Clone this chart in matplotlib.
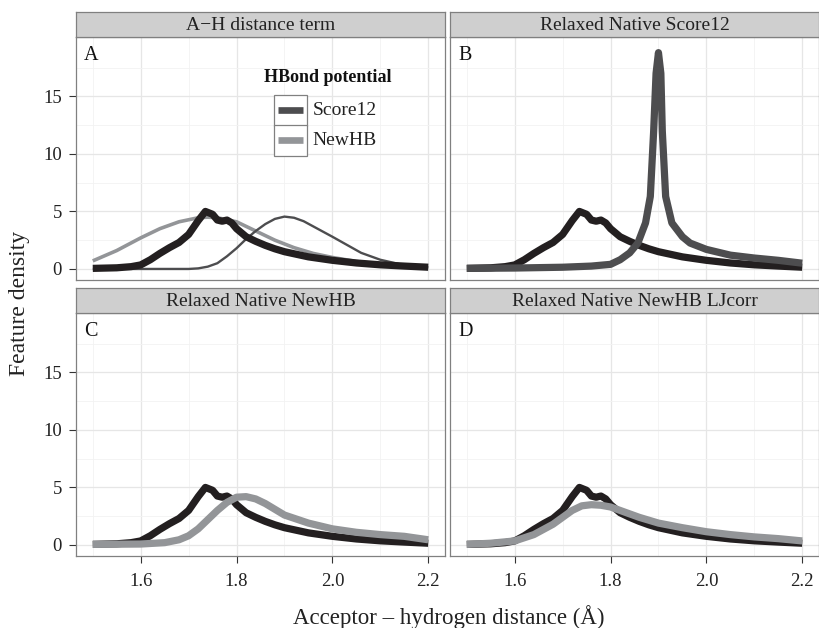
import numpy as np
import matplotlib
matplotlib.use("Agg")
import matplotlib.pyplot as plt
from matplotlib.patches import Rectangle
from matplotlib.lines import Line2D

plt.rcParams['font.family'] = ['Liberation Serif', 'DejaVu Serif']
plt.rcParams['lines.solid_joinstyle'] = 'round'
plt.rcParams['lines.solid_capstyle'] = 'butt'

# native distribution (same in every panel)
native_x = [1.50, 1.55, 1.58, 1.60, 1.62, 1.64, 1.66, 1.68, 1.70, 1.72, 1.735, 1.75, 1.76,
            1.77, 1.78, 1.79, 1.80, 1.82, 1.84, 1.86, 1.88, 1.90, 1.95, 2.00, 2.05, 2.10,
            2.15, 2.20]
native_y = [0.05, 0.10, 0.20, 0.35, 0.80, 1.35, 1.85, 2.30, 3.00, 4.20, 5.00, 4.75, 4.25,
            4.15, 4.25, 4.00, 3.50, 2.80, 2.40, 2.05, 1.75, 1.50, 1.05, 0.75, 0.52, 0.36,
            0.25, 0.15]

# panel A: potential terms
score12_term_x = [1.50, 1.70, 1.72, 1.74, 1.76, 1.78, 1.80, 1.82, 1.84, 1.86, 1.88, 1.90,
                  1.92, 1.94, 1.96, 1.98, 2.00, 2.03, 2.06, 2.10, 2.14, 2.18, 2.20]
score12_term_y = [0.0, 0.0, 0.05, 0.2, 0.5, 1.1, 1.8, 2.6, 3.3, 3.9, 4.35, 4.55, 4.45,
                  4.15, 3.7, 3.25, 2.8, 2.1, 1.4, 0.8, 0.42, 0.2, 0.15]
newhb_term_x = [1.50, 1.55, 1.60, 1.64, 1.68, 1.72, 1.74, 1.76, 1.80, 1.84, 1.88, 1.92,
                1.96, 2.00, 2.05, 2.10, 2.15, 2.20]
newhb_term_y = [0.7, 1.6, 2.7, 3.5, 4.1, 4.45, 4.5, 4.45, 4.1, 3.3, 2.5, 1.85, 1.35,
                1.0, 0.65, 0.4, 0.2, 0.05]

# panel B: relaxed with Score12
relax_s12_x = [1.50, 1.60, 1.70, 1.76, 1.80, 1.82, 1.84, 1.857, 1.873, 1.883, 1.89,
               1.895, 1.90, 1.905, 1.908, 1.915, 1.928, 1.95, 1.966, 2.00, 2.05, 2.10,
               2.15, 2.20]
relax_s12_y = [0.05, 0.08, 0.15, 0.25, 0.4, 0.8, 1.4, 2.25, 4.0, 6.3, 12.0, 17.0, 18.8,
               17.0, 12.0, 6.3, 4.0, 2.8, 2.25, 1.7, 1.2, 0.95, 0.75, 0.5]

# panel C: relaxed with NewHB
relax_nhb_x = [1.50, 1.60, 1.65, 1.68, 1.70, 1.72, 1.74, 1.76, 1.78, 1.80, 1.82, 1.84,
               1.86, 1.88, 1.90, 1.95, 2.00, 2.05, 2.10, 2.15, 2.20]
relax_nhb_y = [0.05, 0.08, 0.2, 0.45, 0.8, 1.4, 2.2, 3.0, 3.7, 4.15, 4.2, 4.0, 3.6, 3.1,
               2.6, 1.9, 1.4, 1.1, 0.9, 0.75, 0.45]

# panel D: relaxed with NewHB + LJ correction
relax_lj_x = [1.50, 1.55, 1.60, 1.64, 1.68, 1.70, 1.72, 1.74, 1.76, 1.78, 1.80, 1.82,
              1.84, 1.86, 1.90, 1.95, 2.00, 2.05, 2.10, 2.15, 2.20]
relax_lj_y = [0.05, 0.15, 0.35, 0.9, 1.8, 2.4, 3.0, 3.4, 3.5, 3.45, 3.3, 3.0, 2.7, 2.4,
              1.9, 1.5, 1.15, 0.9, 0.7, 0.55, 0.35]

titles = ["A\u2212H distance term", "Relaxed Native Score12",
          "Relaxed Native NewHB", "Relaxed Native NewHB LJcorr"]
letters = ["A", "B", "C", "D"]
x_ticks = [1.6, 1.8, 2.0, 2.2]
y_ticks = [0, 5, 10, 15]

black = "#231f20"
dark = "#4d4d4f"
light = "#939598"

W, H = 819, 628
fig = plt.figure(figsize=(W / 100, H / 100), dpi=100)

# pixel boxes: (left, top, width, height) of plot areas
boxes = [(76, 37, 369, 243), (450, 37, 369, 243),
         (76, 313, 369, 243), (450, 313, 369, 243)]
strip_h = 25

axes = []
for i, (l, t, w, h) in enumerate(boxes):
    ax = fig.add_axes([l / W, 1 - (t + h) / H, w / W, h / H])
    ax.set_xlim(1.465, 2.235)
    ax.set_ylim(-0.96, 20.16)
    ax.set_xticks(x_ticks)
    ax.set_yticks(y_ticks)
    ax.set_xticks([1.5, 1.7, 1.9, 2.1], minor=True)
    ax.set_yticks([2.5, 7.5, 12.5, 17.5], minor=True)
    ax.grid(True, which="major", color="#e6e6e6", lw=0.9)
    ax.grid(True, which="minor", color="#f2f2f2", lw=0.6)
    ax.set_axisbelow(True)
    ax.tick_params(which="minor", length=0)
    ax.tick_params(which="major", length=5, color="#333333", width=0.8,
                   labelsize=13.5, labelcolor="#222222")
    ax.tick_params(axis="y", pad=5)
    ax.tick_params(axis="x", pad=7)
    for s in ax.spines.values():
        s.set_color("#808080")
        s.set_linewidth(0.9)
    if i % 2 == 1:
        ax.tick_params(axis="y", length=0, labelleft=False)
    if i < 2:
        ax.tick_params(axis="x", length=0, labelbottom=False)
    ax.text(0.022, 0.925, letters[i], transform=ax.transAxes, fontsize=14.5,
            ha="left", va="center", color="#111111")
    # strip
    sax = fig.add_axes([l / W, 1 - t / H, w / W, strip_h / H])
    sax.set_xticks([])
    sax.set_yticks([])
    sax.set_facecolor("#cfcfcf")
    for s in sax.spines.values():
        s.set_color("#808080")
        s.set_linewidth(0.9)
    sax.text(0.5, 0.45, titles[i], ha="center", va="center", fontsize=14,
             color="#222222", transform=sax.transAxes)
    axes.append(ax)

thick = 5.2
axA, axB, axC, axD = axes
axA.plot(newhb_term_x, newhb_term_y, color=light, lw=2.6)
axA.plot(score12_term_x, score12_term_y, color=dark, lw=1.7)
axA.plot(native_x, native_y, color=black, lw=thick)

axB.plot(native_x, native_y, color=black, lw=thick)
axB.plot(relax_s12_x, relax_s12_y, color=dark, lw=thick)

axC.plot(native_x, native_y, color=black, lw=thick)
axC.plot(relax_nhb_x, relax_nhb_y, color=light, lw=thick)

axD.plot(native_x, native_y, color=black, lw=thick)
axD.plot(relax_lj_x, relax_lj_y, color=light, lw=thick)

# legend in panel A
axA.text(0.682, 0.835, "HBond potential", transform=axA.transAxes, ha="center",
         va="center", fontsize=13, fontweight="bold", color="#111111")
for j, (lab, col) in enumerate([("Score12", dark), ("NewHB", light)]):
    y0 = 0.634 - j * 0.122
    axA.add_patch(Rectangle((0.537, y0), 0.089, 0.127, transform=axA.transAxes,
                            facecolor="white", edgecolor="#808080", lw=0.9, zorder=5))
    axA.add_line(Line2D([0.547, 0.616], [y0 + 0.064] * 2, transform=axA.transAxes,
                        color=col, lw=4.8, zorder=6))
    axA.text(0.641, y0 + 0.064, lab, transform=axA.transAxes, ha="left", va="center",
             fontsize=14, color="#222222", zorder=6)

fig.text(0.0235, 1 - 303 / H, "Feature density", rotation=90, ha="center",
         va="center", fontsize=17, color="#222222")
fig.text(449 / W, 1 - 617 / H, "Acceptor \u2013 hydrogen distance (\u00c5)", ha="center",
         va="center", fontsize=16.5, color="#222222")

fig.savefig("out.png", dpi=100)
